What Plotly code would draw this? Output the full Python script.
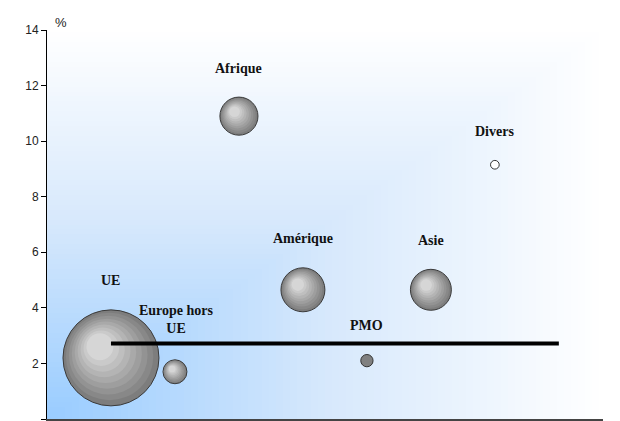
import numpy as np
import plotly.graph_objects as go

# regions, position on the x scale, growth (%) and weight (bubble area)
regions = ["UE", "Europe hors<br>UE", "Afrique", "Amérique", "PMO", "Asie", "Divers"]
x_pos = [1, 2, 3, 4, 5, 6, 7]
growth = [2.2, 1.7, 10.9, 4.65, 2.1, 4.65, 9.15]
weights = [61.0, 3.8, 9.6, 12.8, 1.0, 11.1, 0.5]

avg_growth = 2.72
avg_x = [1, 8]

y_ticks = [0, 2, 4, 6, 8, 10, 12, 14]

W, H = 620, 421
M = dict(l=47, r=17, t=30, b=2)
X_MAX = 8.69
Y_MAX = 14
px_x = (W - M["l"] - M["r"]) / X_MAX
px_y = (H - M["t"] - M["b"]) / Y_MAX

D_MAX = 96
diam = [D_MAX * np.sqrt(w / max(weights)) for w in weights]

fig = go.Figure()

# background: corner gradient, light blue bottom-left to white
gx = np.linspace(0, X_MAX, 80)
gy = np.linspace(0, Y_MAX, 80)
gz = np.maximum.outer(gy / Y_MAX, gx / X_MAX)
fig.add_trace(go.Heatmap(
    x=gx, y=gy, z=gz, zmin=0, zmax=1,
    colorscale=[[0, "#99CCFF"], [0.5, "#D6E8FC"], [1, "#FFFFFF"]],
    showscale=False, hoverinfo="skip",
))

# shaded bubbles built from concentric layers
n_layers = 9
for i, name in enumerate(regions):
    d = diam[i]
    if name == "Divers":
        fig.add_trace(go.Scatter(
            x=[x_pos[i]], y=[growth[i]], mode="markers",
            marker=dict(size=d, color="white", line=dict(color="#333333", width=1)),
            showlegend=False, hoverinfo="skip"))
        continue
    if d < 15:
        fig.add_trace(go.Scatter(
            x=[x_pos[i]], y=[growth[i]], mode="markers",
            marker=dict(size=d, color="#808080", line=dict(color="#333333", width=1)),
            showlegend=False, hoverinfo="skip"))
        continue
    for k in range(n_layers):
        f = 1 - 0.72 * k / (n_layers - 1)
        g = int(125 + (214 - 125) * k / (n_layers - 1))
        shift = (1 - f) * 0.32 * d / 2
        fig.add_trace(go.Scatter(
            x=[x_pos[i] - shift / px_x], y=[growth[i] + shift / px_y],
            mode="markers",
            marker=dict(size=d * f, color=f"rgb({g},{g},{g})",
                        line=dict(color="#3a3a3a", width=1 if k == 0 else 0)),
            showlegend=False, hoverinfo="skip"))

# average line
fig.add_trace(go.Scatter(
    x=avg_x, y=[avg_growth, avg_growth], mode="lines",
    line=dict(color="black", width=4), showlegend=False, hoverinfo="skip"))

# labels above bubbles
for i, name in enumerate(regions):
    extra = 11 if "<br>" in name else 0
    fig.add_annotation(
        x=x_pos[i], y=growth[i], text=f"<b>{name}</b>", showarrow=False,
        yshift=diam[i] / 2 + 29 + extra, xshift=2 if extra else 0,
        font=dict(family="Liberation Serif", size=14, color="#111111"))

fig.add_annotation(
    x=0, y=1, xref="paper", yref="paper", text="%", showarrow=False,
    xanchor="left", yanchor="bottom", xshift=6, yshift=-2,
    font=dict(family="Liberation Sans", size=13, color="#222222"))

fig.update_layout(
    width=W, height=H, margin=M,
    paper_bgcolor="white", plot_bgcolor="white",
    showlegend=False,
    xaxis=dict(range=[0, X_MAX], showgrid=False, zeroline=False,
               showticklabels=False, ticks="", showline=True, automargin=False,
               linecolor="#444444", linewidth=2),
    yaxis=dict(range=[0, Y_MAX], tickvals=y_ticks, showgrid=False, automargin=False,
               zeroline=False, showline=True, linecolor="black", linewidth=1,
               ticks="outside", ticklen=5, tickcolor="black",
               tickfont=dict(family="Liberation Sans", size=12, color="#222222")),
)

# drop the page's default body margin so the figure sits at the window origin
fig.write_html("out.html", config={"displayModeBar": False},
               post_script="document.body.style.margin='0';")
